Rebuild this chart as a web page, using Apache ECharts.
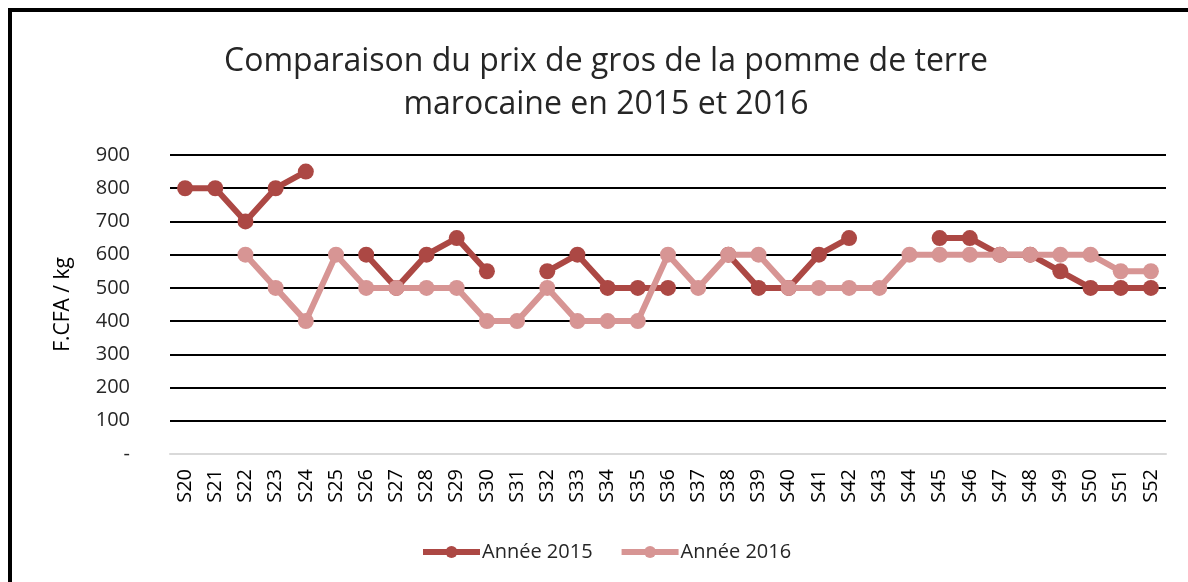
<!DOCTYPE html>
<html><head><meta charset="utf-8">
<script src="https://cdn.jsdelivr.net/npm/echarts@6/dist/echarts.min.js"></script>
<style>html,body{margin:0;padding:0;background:#fff}#c{width:1188px;height:582px}</style>
</head><body><div id="c"></div>
<script>
const categories = ['S20','S21','S22','S23','S24','S25','S26','S27','S28','S29','S30','S31','S32','S33','S34','S35','S36','S37','S38','S39','S40','S41','S42','S43','S44','S45','S46','S47','S48','S49','S50','S51','S52'];
const annee2015 = [800,800,700,800,850,null,600,500,600,650,550,null,550,600,500,500,500,null,600,500,500,600,650,null,null,650,650,600,600,550,500,500,500];
const annee2016 = [null,null,600,500,400,600,500,500,500,500,400,400,500,400,400,400,600,500,600,600,500,500,500,500,600,600,600,600,600,600,600,550,550];
const yTicks = {min:0, max:900, interval:100};
const FONT = 'Open Sans';
const chart = echarts.init(document.getElementById('c'));
chart.setOption({
  animation:false,
  textStyle:{fontFamily:FONT},
  graphic:[{type:'rect',shape:{x:10,y:10,width:1300,height:700},style:{fill:'none',stroke:'#000',lineWidth:4}}],
  title:{text:'Comparaison du prix de gros de la pomme de terre\nmarocaine en 2015 et 2016',left:601,top:35,textAlign:'center',
    textStyle:{fontFamily:FONT,fontSize:32,fontWeight:'normal',color:'#262626',lineHeight:43}},
  legend:{top:537,left:415,itemWidth:57,itemHeight:15,itemGap:26,
    lineStyle:{width:6},
    textStyle:{fontFamily:FONT,fontSize:20,color:'#262626',padding:[0,0,0,-3]},data:['Année 2015','Année 2016']},
  grid:{left:170,right:22,top:155,bottom:128,containLabel:false},
  xAxis:{type:'category',data:categories,boundaryGap:true,
    axisLine:{lineStyle:{color:'#d9d9d9',width:2}},axisTick:{show:false},
    axisLabel:{rotate:90,fontFamily:FONT,fontSize:20,color:'#000',margin:15}},
  yAxis:{type:'value',min:yTicks.min,max:yTicks.max,interval:yTicks.interval,
    name:'F.CFA / kg',nameLocation:'middle',nameGap:96,nameTextStyle:{fontFamily:FONT,fontSize:21,color:'#000'},
    axisLine:{show:false},axisTick:{show:false},
    axisLabel:{fontFamily:FONT,fontSize:20,color:'#262626',margin:40,formatter:v=>v===0?'-':String(v)},
    splitLine:{lineStyle:{color:'#000',width:2}}},
  series:[
    {name:'Année 2015',type:'line',data:annee2015,symbol:'circle',symbolSize:16,connectNulls:false,
      lineStyle:{color:'#AC4844',width:6},itemStyle:{color:'#AC4844'},z:2},
    {name:'Année 2016',type:'line',data:annee2016,symbol:'circle',symbolSize:16,connectNulls:false,
      lineStyle:{color:'#D79594',width:6},itemStyle:{color:'#D79594'},z:3}
  ]
});
</script></body></html>
